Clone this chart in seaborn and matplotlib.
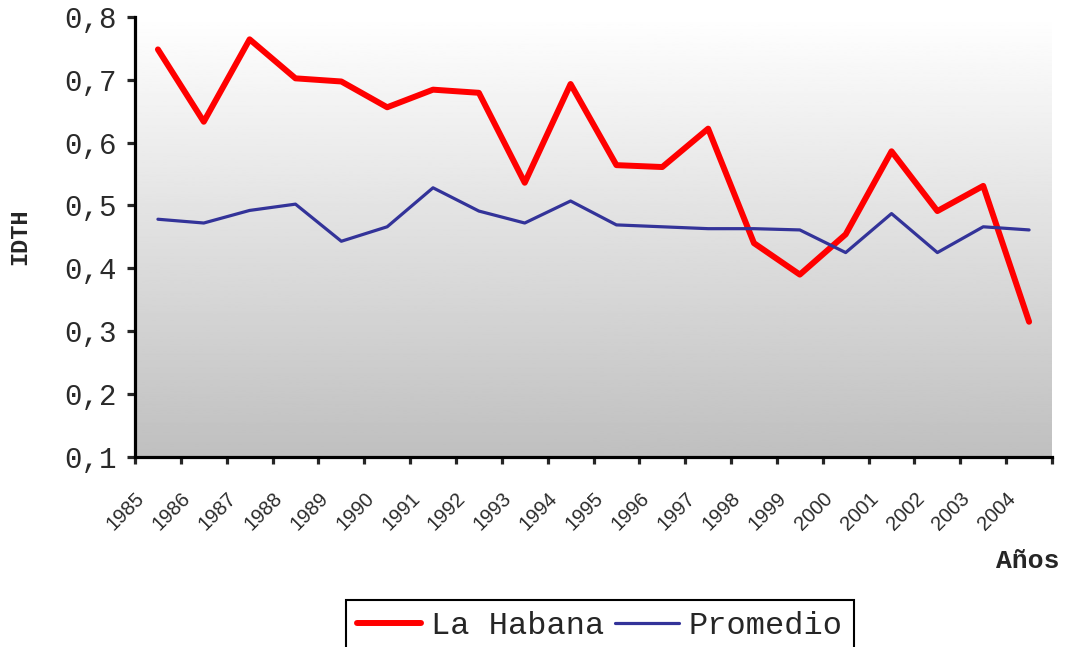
import numpy as np
import pandas as pd
import matplotlib
matplotlib.use('Agg')
import matplotlib.pyplot as plt
import matplotlib.transforms as mtransforms
import seaborn as sns

years = ['1985', '1986', '1987', '1988', '1989', '1990', '1991', '1992', '1993', '1994',
         '1995', '1996', '1997', '1998', '1999', '2000', '2001', '2002', '2003', '2004']
habana = [0.748, 0.633, 0.764, 0.702, 0.697, 0.656, 0.684, 0.679, 0.536, 0.693,
          0.564, 0.561, 0.622, 0.440, 0.390, 0.454, 0.586, 0.491, 0.531, 0.315]
promedio = [0.478, 0.472, 0.492, 0.502, 0.443, 0.466, 0.528, 0.491, 0.472, 0.507,
            0.469, 0.466, 0.463, 0.463, 0.461, 0.425, 0.487, 0.425, 0.466, 0.461]
y_ticks = [0.1, 0.2, 0.3, 0.4, 0.5, 0.6, 0.7, 0.8]
y_tick_labels = ['0,1', '0,2', '0,3', '0,4', '0,5', '0,6', '0,7', '0,8']

sns.set_style('ticks')
plt.rcParams['font.family'] = ['Liberation Mono', 'DejaVu Sans Mono']

# category positions: data sits in the middle of each category slot
df = pd.DataFrame({'pos': np.arange(len(years)) + 0.5, 'La Habana': habana, 'Promedio': promedio})

fig = plt.figure(figsize=(10.69, 6.47), dpi=100)
ax = fig.add_axes([135 / 1069, 1 - 457 / 647, (1052 - 135) / 1069, (457 - 16.7) / 647])

# Excel-like vertical gradient in the plot area
grad = np.linspace(1.0, 0.75, 256).reshape(-1, 1)
ax.imshow(grad, cmap='gray', vmin=0, vmax=1, aspect='auto',
          extent=(0, len(years), 0.1, 0.8), origin='upper', zorder=0)

sns.lineplot(data=df, x='pos', y='La Habana', ax=ax, color='#ff0000', lw=4.3,
             label='La Habana', legend=False, zorder=3)
sns.lineplot(data=df, x='pos', y='Promedio', ax=ax, color='#333399', lw=2.3,
             label='Promedio', legend=False, zorder=3)

ax.set_xlim(0, len(years))
ax.set_ylim(0.1, 0.8)
ax.set_yticks(y_ticks)
ax.set_yticklabels(y_tick_labels, fontsize=21, color='#2a2a2a')
ax.set_xticks(np.arange(len(years) + 1))
ax.set_xticklabels(years + [''], rotation=45, ha='right', va='top',
                   rotation_mode='anchor', fontsize=14.5, color='#2a2a2a',
                   family=['Liberation Sans', 'DejaVu Sans'])
shift = mtransforms.ScaledTranslation(5 / 100, 0, fig.dpi_scale_trans)
for lab in ax.get_xticklabels():
    lab.set_transform(lab.get_transform() + shift)
ax.set_xlabel('')
ax.set_ylabel('')

for side in ['top', 'right']:
    ax.spines[side].set_visible(False)
for side in ['left', 'bottom']:
    ax.spines[side].set_linewidth(2.3)
    ax.spines[side].set_color('black')
ax.tick_params(axis='y', direction='out', length=6, width=2.3, pad=7)
ax.tick_params(axis='x', direction='out', length=5, width=2.3, pad=18)

fig.text(20 / 1069, 1 - 237 / 647, 'IDTH', rotation=90, ha='center', va='center',
         fontsize=17, fontweight='bold')
fig.text(1028 / 1069, 1 - 561 / 647, 'Años', ha='center', va='center',
         fontsize=19, fontweight='bold')

handles, labels = ax.get_legend_handles_labels()
leg = fig.legend(handles, labels, loc='upper center', ncol=2,
                 bbox_to_anchor=(600 / 1069, 1 - 600 / 647), fontsize=23,
                 frameon=True, fancybox=False, edgecolor='black', framealpha=1,
                 handlelength=2.0, handletextpad=0.3, columnspacing=0.35,
                 borderpad=0.35, borderaxespad=0)
leg.get_frame().set_linewidth(1.5)

fig.savefig('out.png', dpi=100)
